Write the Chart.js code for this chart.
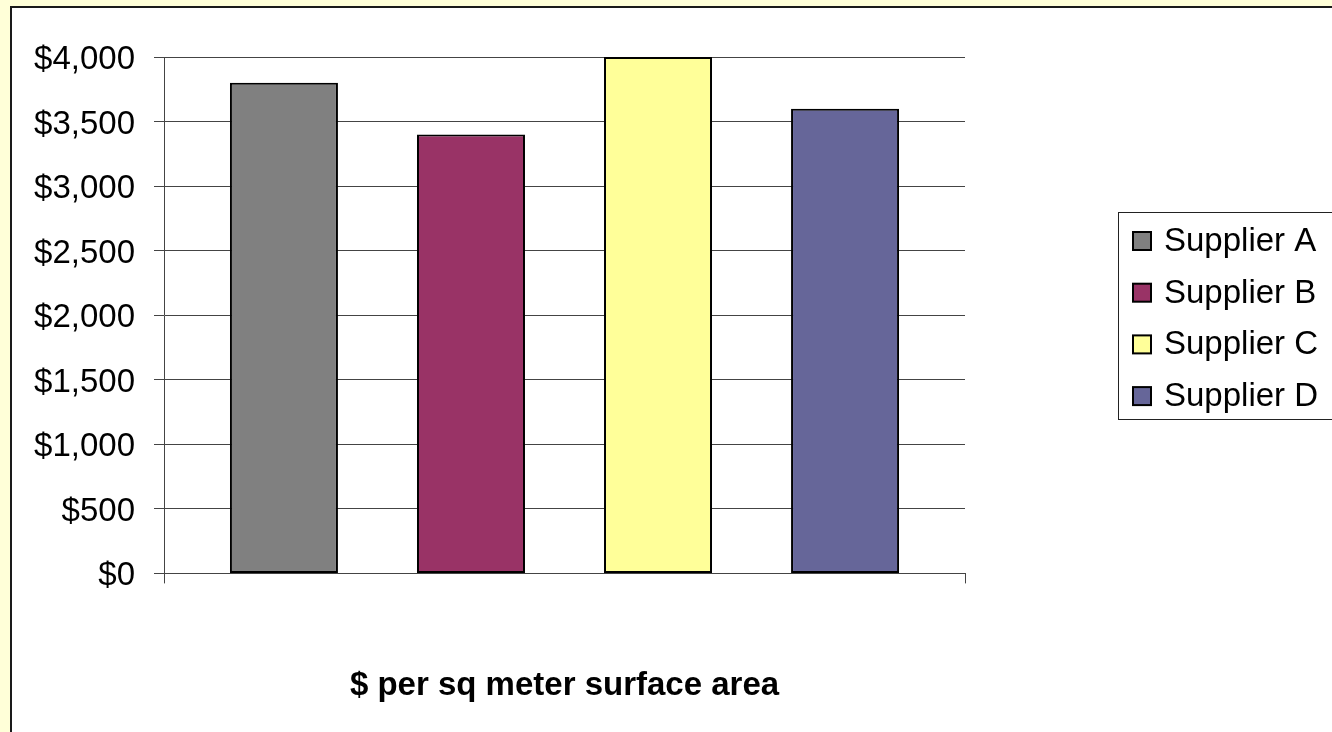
<!DOCTYPE html>
<html>
<head>
<meta charset="utf-8">
<script src="https://cdn.jsdelivr.net/npm/chart.js@4/dist/chart.umd.min.js"></script>
<style>
  html, body { margin: 0; padding: 0; background: #FFFFD8; }
  #wrap { position: relative; width: 1332px; height: 732px; }
  canvas { display: block; }
</style>
</head>
<body>
<div id="wrap"><canvas id="c" width="1332" height="732"></canvas></div>
<script>
// Cost per square metre of surface area, quoted by four suppliers
const categories = ['$ per sq meter surface area'];
const suppliers = ['Supplier A', 'Supplier B', 'Supplier C', 'Supplier D'];
const costs = [3800, 3400, 4000, 3600];
const colors = ['#808080', '#993366', '#FFFF99', '#666699'];
const yTicks = [0, 500, 1000, 1500, 2000, 2500, 3000, 3500, 4000];

const FONT = "'Liberation Sans', Arial, sans-serif";

// Pale page background with a white, black-edged chart panel
const panelPlugin = {
  id: 'panel',
  beforeDraw(chart) {
    const { ctx, width, height } = chart;
    ctx.save();
    ctx.fillStyle = '#FFFFD8';
    ctx.fillRect(0, 0, width, height);
    ctx.fillStyle = '#FFFFFF';
    ctx.fillRect(10, 6, width, height);
    ctx.strokeStyle = '#1a1a1a';
    ctx.lineWidth = 2;
    ctx.beginPath();
    ctx.moveTo(11, height + 5);
    ctx.lineTo(11, 7);
    ctx.lineTo(width + 5, 7);
    ctx.stroke();
    ctx.restore();
  }
};

// Boxed legend at the right-hand side
const boxLegendPlugin = {
  id: 'boxLegend',
  afterDraw(chart) {
    const { ctx } = chart;
    const left = 1118, top = 212, bottom = 419;
    ctx.save();
    ctx.fillStyle = '#FFFFFF';
    ctx.fillRect(left, top, chart.width, bottom - top);
    ctx.strokeStyle = '#222';
    ctx.lineWidth = 1;
    ctx.strokeRect(left + 0.5, top + 0.5, chart.width, bottom - top);
    ctx.font = '33px ' + FONT;
    ctx.textBaseline = 'middle';
    ctx.textAlign = 'left';
    chart.data.datasets.forEach((ds, i) => {
      const cy = 241 + i * 51.7;
      ctx.fillStyle = ds.backgroundColor;
      ctx.fillRect(1133, cy - 9, 18, 18);
      ctx.strokeStyle = '#000';
      ctx.lineWidth = 2;
      ctx.strokeRect(1133, cy - 9, 18, 18);
      ctx.fillStyle = '#000';
      ctx.fillText(ds.label, 1164, cy + 1);
    });
    ctx.restore();
  }
};

const datasets = suppliers.map((name, i) => ({
  label: name,
  data: [costs[i]],
  backgroundColor: colors[i],
  borderColor: '#000000',
  borderWidth: 2,
  borderSkipped: false,
  categoryPercentage: 0.934,
  barPercentage: 0.5775
}));

new Chart(document.getElementById('c'), {
  type: 'bar',
  data: { labels: categories, datasets },
  options: {
    responsive: false,
    animation: false,
    layout: { padding: { left: 0, top: 57, right: 367, bottom: 0 } },
    plugins: {
      legend: { display: false },
      tooltip: { enabled: false },
      title: { display: false }
    },
    scales: {
      x: {
        offset: true,
        grid: {
          offset: true,
          drawOnChartArea: false,
          tickLength: 10,
          color: '#444',
          lineWidth: 1
        },
        border: { display: true, color: '#444', width: 1 },
        ticks: { display: false },
        title: {
          display: true,
          text: categories[0],
          color: '#000',
          font: { family: FONT, size: 33, weight: 'bold', lineHeight: 1.2 },
          padding: { top: 83, bottom: 26 }
        }
      },
      y: {
        min: 0,
        max: 4000,
        afterBuildTicks(scale) { scale.ticks = yTicks.map(v => ({ value: v })); },
        afterFit(scale) { scale.width = 164; },
        grid: { color: '#444', lineWidth: 1, tickLength: 10 },
        border: { display: true, color: '#444', width: 1 },
        ticks: {
          color: '#000',
          padding: 19,
          labelOffset: 3,
          font: { family: FONT, size: 33 },
          callback: v => '$' + Number(v).toLocaleString('en-US')
        }
      }
    }
  },
  plugins: [panelPlugin, boxLegendPlugin]
});
</script>
</body>
</html>
